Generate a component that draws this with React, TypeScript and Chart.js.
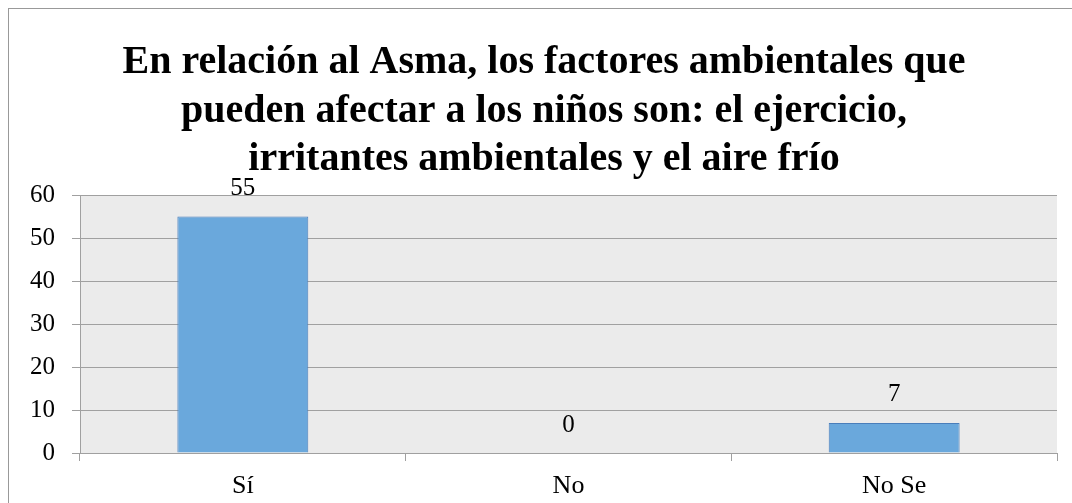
import React, { useEffect, useRef } from "react";
import { Chart, registerables } from "chart.js";

Chart.register(...registerables);

const categories = ["Sí", "No", "No Se"];
const values = [55, 0, 7];
const yMin = 0;
const yMax = 60;
const yStep = 10;
const titleLines = [
  "En relación al Asma, los factores ambientales que",
  "pueden afectar a los niños son: el ejercicio,",
  "irritantes ambientales y el aire frío",
];

const FONT = '"Liberation Serif", "Times New Roman", serif';

const plotBg = {
  id: "plotBg",
  beforeDraw(chart: any) {
    const { ctx, chartArea } = chart;
    ctx.save();
    ctx.fillStyle = "#ebebeb";
    ctx.fillRect(chartArea.left, chartArea.top, chartArea.right - chartArea.left, chartArea.bottom - chartArea.top);
    ctx.restore();
  },
};

const titlePlugin = {
  id: "titleDraw",
  afterDraw(chart: any) {
    const { ctx } = chart;
    ctx.save();
    ctx.font = `bold 40px ${FONT}`;
    ctx.fillStyle = "#000";
    ctx.textAlign = "center";
    ctx.textBaseline = "alphabetic";
    titleLines.forEach((line, i) => {
      ctx.fillText(line, 535, 64 + i * 48.5);
    });
    ctx.restore();
  },
};

const dataLabels = {
  id: "dataLabels",
  afterDatasetsDraw(chart: any) {
    const { ctx } = chart;
    const meta = chart.getDatasetMeta(0);
    ctx.save();
    ctx.font = `25px ${FONT}`;
    ctx.fillStyle = "#000";
    ctx.textAlign = "center";
    ctx.textBaseline = "middle";
    meta.data.forEach((bar: any, i: number) => {
      ctx.fillText(String(values[i]), bar.x, bar.y - 28);
    });
    ctx.restore();
  },
};

export default function App() {
  const ref = useRef<HTMLCanvasElement | null>(null);

  useEffect(() => {
    document.documentElement.style.overflow = "hidden";
    document.body.style.overflow = "hidden";
    if (!ref.current) return;
    const chart = new Chart(ref.current, {
      type: "bar",
      data: {
        labels: categories,
        datasets: [
          {
            data: values,
            backgroundColor: "#6aa8dc",
            borderColor: "#4a7ebb",
            borderWidth: 1,
            categoryPercentage: 1,
            barPercentage: 0.402,
          },
        ],
      },
      options: {
        responsive: false,
        animation: false,
        layout: { padding: { top: 186, right: 15, left: 0, bottom: 0 } },
        plugins: {
          legend: { display: false },
          title: { display: false },
          tooltip: { enabled: false },
        },
        scales: {
          x: {
            grid: {
              drawOnChartArea: false,
              drawTicks: true,
              tickLength: 8,
              color: "#a0a0a0",
              offset: true,
            },
            border: { color: "#a0a0a0" },
            ticks: {
              color: "#000",
              font: { family: FONT, size: 26 },
              padding: 10,
              maxRotation: 0,
            },
            afterFit(s: any) {
              s.height = 50;
            },
          },
          y: {
            min: yMin,
            max: yMax,
            grid: {
              color: "#a0a0a0",
              tickLength: 8,
            },
            border: { color: "#a0a0a0" },
            ticks: {
              stepSize: yStep,
              color: "#000",
              font: { family: FONT, size: 25 },
              padding: 17,
            },
            afterFit(s: any) {
              s.width = 71;
            },
          },
        },
      },
      plugins: [plotBg, dataLabels, titlePlugin],
    });
    return () => chart.destroy();
  }, []);

  return (
    <div
      style={{
        position: "fixed",
        left: 8,
        top: 8,
        width: 1100,
        height: 530,
        boxSizing: "border-box",
        borderTop: "1px solid #999",
        borderLeft: "1px solid #999",
        background: "#fff",
      }}
    >
      <canvas ref={ref} width={1063} height={494} style={{ display: "block" }} />
    </div>
  );
}
